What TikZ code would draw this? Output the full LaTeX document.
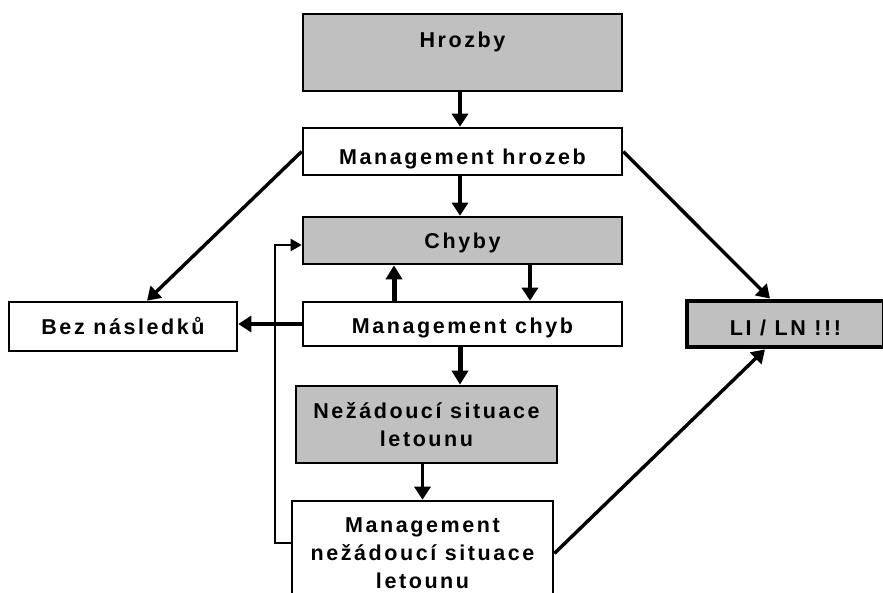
\documentclass[tikz,border=0pt]{standalone}
\usepackage{fontspec}
\setmainfont{Liberation Sans}[LetterSpace=12]
\usetikzlibrary{arrows.meta}
\definecolor{boxgray}{HTML}{C0C0C0}
\begin{document}
\begin{tikzpicture}[x=1pt,y=-1pt,
  font=\fontsize{21.5pt}{28pt}\selectfont\bfseries,
  box/.style={draw, line width=2.6pt, rectangle, inner sep=0pt, fill=white},
  gbox/.style={box, fill=boxgray},
  arr/.style={line width=3.4pt, -{Triangle[length=13pt,width=16pt]}},
  tarr/.style={line width=5pt, -{Triangle[length=14pt,width=16pt]}},
  farr/.style={line width=2.4pt, -{Triangle[length=11pt,width=12pt]}}]
\useasboundingbox (0,0) rectangle (883,592);
\clip (0,0) rectangle (883,592);
% boxes
\node[gbox, minimum width=319pt, minimum height=77pt, text height=33pt, text depth=44pt] (hrozby) at (462.5,52.5) {Hrozby};
\node[box, minimum width=319pt, minimum height=47pt, text height=36pt, text depth=11pt] (mh) at (462.5,151.5) {Management hrozeb};
\node[gbox, minimum width=319pt, minimum height=47pt, text height=31pt, text depth=16pt] (chyby) at (462.5,240.5) {Chyby};
\node[box, minimum width=319pt, minimum height=44pt, text height=31pt, text depth=13pt] (mch) at (462.5,324) {Management chyb};
\node[box, minimum width=228pt, minimum height=49pt, text height=32pt, text depth=17pt] (bez) at (123,326.5) {Bez následků};
\node[gbox, line width=4.8pt, minimum width=197pt, minimum height=46pt, text height=34pt, text depth=12pt] (li) at (785.5,324) {LI / LN !!!};
\node[gbox, minimum width=261pt, minimum height=77pt, align=center] (nez) at (426.5,424.5) {Nežádoucí situace\\letounu};
\node[box, minimum width=261pt, minimum height=105pt, align=center] (mns) at (422.5,553.5) {Management\\nežádoucí situace\\letounu};
% feedback coordinates
\coordinate (fbB) at (275,543);
\coordinate (fbT) at (275,245);
% connectors
\draw[arr] ([xshift=-2.5pt]hrozby.south) -- ([xshift=-2.5pt]mh.north);
\draw[arr] ([xshift=-2.5pt]mh.south) -- ([xshift=-2.5pt]chyby.north);
\draw[arr] ([xshift=67.5pt]chyby.south) -- ([xshift=67.5pt]mch.north);
\draw[tarr] ([xshift=-68.5pt]mch.north) -- ([xshift=-68.5pt]chyby.south);
\draw[arr] (mch.west) -- (bez.east |- mch.west);
\draw[tarr] ([xshift=-2.5pt]mch.south) -- ([xshift=-2.5pt]mch.south |- nez.north);
\draw[arr] (mns.north |- nez.south) -- (mns.north);
\draw[arr] (mh.west) -- ([xshift=24pt]bez.north);
\draw[arr] (mh.east) -- ([xshift=-15.5pt]li.north);
\draw[arr] (mns.east) -- ([xshift=-20.5pt]li.south);
\draw[farr] ([yshift=10.5pt]mns.west) -- (fbB) -- (fbT) -- ([yshift=-4.5pt]chyby.west);
\end{tikzpicture}
\end{document}
